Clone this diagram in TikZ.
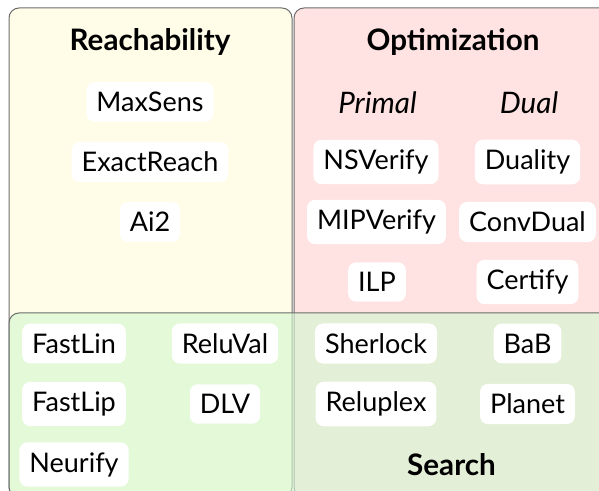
\documentclass[tikz,border=0pt]{standalone}
\usepackage{fontspec}
\setmainfont{Lato}
\newcommand\diagfont{\fontsize{13.5}{16}\selectfont}
\newcommand\headfont{\fontsize{14.8}{17}\selectfont}
\definecolor{reachfill}{RGB}{255,253,232}
\definecolor{optfill}{RGB}{255,226,226}
\definecolor{searchfill}{RGB}{212,248,208}
\tikzset{
  area/.style={draw=gray!85!black, line width=0.5pt, rounded corners=5pt},
  method/.style={fill=white, rounded corners=4pt, inner sep=5pt, font=\diagfont},
  heading/.style={font=\headfont\bfseries},
  subheading/.style={font=\headfont\itshape}
}
\begin{document}
\begin{tikzpicture}[x=0.5pt, y=-0.5pt]
  \clip (0,0) rectangle (599,491);
  % Bereiche
  \draw[area, fill=reachfill] (9,8) rectangle (292,497);
  \draw[area, fill=optfill] (294,8) rectangle (630,497);
  \draw[area, fill=searchfill, fill opacity=0.63] (9,313) rectangle (630,497);

  % Ueberschriften
  \node[heading] (reach) at (150,42) {Reachability};
  \node[heading] (opt) at (453,42) {Optimization};
  \node[heading] (search) at (451.5,465) {Search};
  \node[subheading] (primal) at (377.5,103) {Primal};
  \node[subheading] (dual) at (529,103) {Dual};

  % Verfahren
  \foreach \nm/\px/\py in {MaxSens/150/102, ExactReach/150/162, Ai2/150/222,
      NSVerify/376/162, MIPVerify/376.5/222, ILP/377/282,
      Duality/527.5/162, ConvDual/527.5/222, Certify/527.5/282,
      FastLin/74/343.5, FastLip/74/404, Neurify/74/464.5,
      ReluVal/225/343.5, DLV/225/404,
      Sherlock/376/343.5, Reluplex/376/404,
      BaB/527.5/343.5, Planet/527.5/404}
    \node[method] (\nm) at (\px,\py) {\nm};
\end{tikzpicture}
\end{document}
